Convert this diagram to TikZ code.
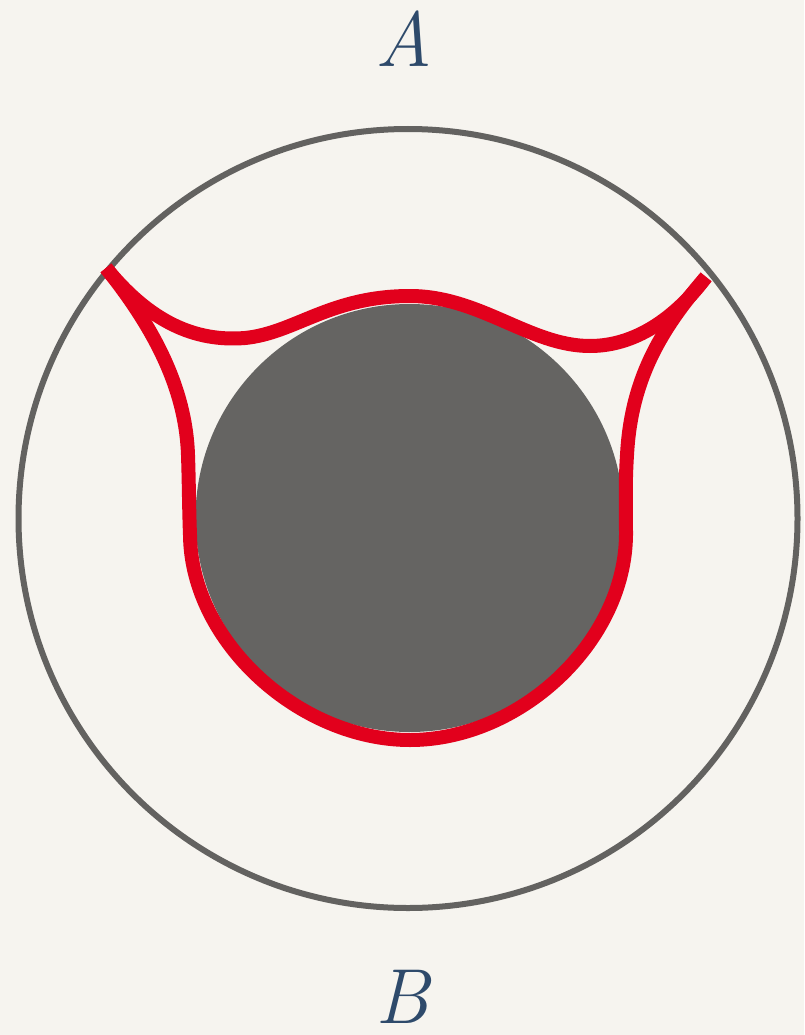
\documentclass[tikz,border=0pt]{standalone}
\definecolor{bg}{HTML}{F6F4EF}
\definecolor{ringgray}{HTML}{636260}
\definecolor{diskgray}{HTML}{656462}
\definecolor{redline}{HTML}{E2001C}
\definecolor{labelblue}{HTML}{2E4A6B}
\tikzset{
  ring/.style={draw=ringgray, line width=6pt},
  disk/.style={fill=diskgray},
  redcurve/.style={draw=redline, line width=14pt, line cap=butt, line join=round},
  lbl/.style={text=labelblue, font=\fontsize{78}{78}\selectfont\itshape, inner sep=0pt, anchor=base}
}
\begin{document}
\begin{tikzpicture}[x=1pt,y=-1pt]
\useasboundingbox[fill=bg] (0,0) rectangle (804,1035);
\coordinate (C) at (408,518.5);
\coordinate (D) at (409.5,518);
\draw[ring] (C) circle[radius=389.5];
\fill[disk] (D) circle[radius=214];
\coordinate (L) at (106,268);
\coordinate (R) at (706,277);
% upper branch
\draw[redcurve] (L) .. controls (150,322) and (195,342) .. (245,338)
  .. controls (295,333) and (330,296) .. (410,296)
  .. controls (480,296) and (530,346) .. (590,346)
  .. controls (640,346) and (680,312) .. (R);
% lower branch
\draw[redcurve] (L) .. controls (160,335) and (186,395) .. (188,455)
  .. controls (189,485) and (189,510) .. (190,535)
  .. controls (191,642) and (300,740) .. (410,740)
  .. controls (520,740) and (625,642) .. (626,535)
  .. controls (626,510) and (625,485) .. (627,455)
  .. controls (631,380) and (660,330) .. (R);
\node[lbl] (A) at (404,67) {A};
\node[lbl] (B) at (402,1023) {B};
\end{tikzpicture}
\end{document}
